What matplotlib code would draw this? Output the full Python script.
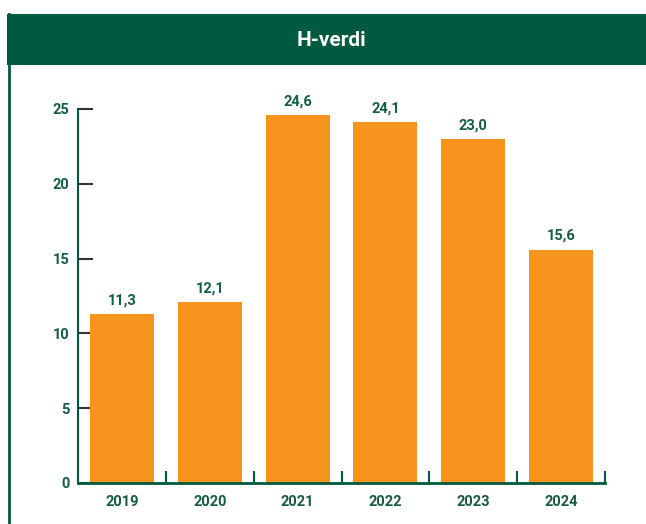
import matplotlib
matplotlib.use("Agg")
import matplotlib.pyplot as plt
from matplotlib.patches import Rectangle
from matplotlib.lines import Line2D
import numpy as np

years = ["2019", "2020", "2021", "2022", "2023", "2024"]
values = [11.3, 12.1, 24.6, 24.1, 23.0, 15.6]
yticks = [0, 5, 10, 15, 20, 25]
title = "H-verdi"

GREEN = "#005a40"
TEXTGREEN = "#165c45"
ORANGE = "#f7941d"

plt.rcParams['font.family'] = ['Roboto', 'DejaVu Sans']

fig = plt.figure(figsize=(6.46, 5.24), dpi=100)
W, H = 646, 524

# header band
fig.patches.append(Rectangle((7 / W, 1 - 65 / H), 1, 51 / H, transform=fig.transFigure,
                             facecolor=GREEN, edgecolor='none', zorder=0))
fig.text(331 / W, 1 - 40 / H, title, color='white', fontsize=15, fontweight='bold',
         ha='center', va='center')
# left border
fig.lines.append(Line2D([8.5 / W, 8.5 / W], [0, 1 - 14 / H], transform=fig.transFigure,
                        color=GREEN, lw=2))

ax = fig.add_axes([78 / W, 1 - 483 / H, (605 - 78) / W, (483 - 109) / H])
x = np.arange(len(years))
ax.bar(x, values, width=0.73, color=ORANGE, zorder=2)
for xi, v in zip(x, values):
    ax.text(xi, v + 0.45, f"{v:.1f}".replace('.', ','), ha='center', va='bottom',
            color=TEXTGREEN, fontsize=10.5, fontweight='bold')

ax.set_xlim(-0.5, len(years) - 0.5)
ax.set_ylim(0, 25)
ax.set_yticks(yticks)
ax.set_yticklabels([str(t) for t in yticks])
ax.set_xticks(x)
ax.set_xticklabels(years)
ax.set_xticks(np.arange(len(years) + 1) - 0.5, minor=True)

for s in ['top', 'right']:
    ax.spines[s].set_visible(False)
ax.spines['left'].set_color(GREEN)
ax.spines['bottom'].set_color(GREEN)
ax.spines['left'].set_linewidth(1.5)
ax.spines['bottom'].set_linewidth(2)

ax.tick_params(axis='y', direction='in', length=11, width=1.5, color='#333333',
               labelcolor=TEXTGREEN, labelsize=10.5, pad=6)
ax.tick_params(axis='x', which='major', length=0, labelcolor=TEXTGREEN, labelsize=10.5, pad=9)
ax.tick_params(axis='x', which='minor', direction='in', length=9, width=1.5, color=GREEN)
for lab in ax.get_xticklabels() + ax.get_yticklabels():
    lab.set_fontweight('bold')

fig.savefig("out.png", dpi=100)
